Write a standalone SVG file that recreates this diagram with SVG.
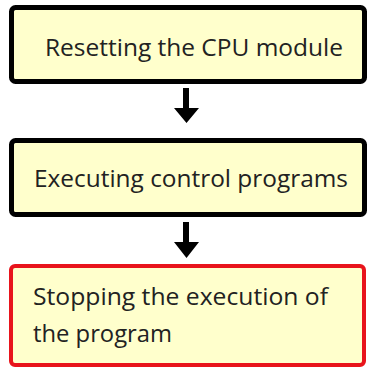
<svg xmlns="http://www.w3.org/2000/svg" width="371" height="370" viewBox="0 0 371 370">
<defs>
<style>
.box{fill:#FFFFCC;stroke:#000;stroke-width:5}
.red{fill:#FFFFCC;stroke:#E8141B;stroke-width:4}
.t{font-family:"Open Sans","Noto Sans","DejaVu Sans",sans-serif;font-size:23px;fill:#222}
.arr{fill:#000}
</style>
</defs>
<rect width="371" height="370" fill="#fff"/>
<g id="node-reset">
<rect class="box" x="11.5" y="7.5" width="353" height="74" rx="4"/>
<text class="t" x="45" y="56" textLength="298" lengthAdjust="spacingAndGlyphs">Resetting the CPU module</text>
</g>
<g id="node-execute">
<rect class="box" x="11.5" y="140.5" width="353" height="74" rx="4"/>
<text class="t" x="34" y="187" textLength="314" lengthAdjust="spacingAndGlyphs">Executing control programs</text>
</g>
<g id="node-stop">
<rect class="red" x="11" y="266" width="353" height="99" rx="4"/>
<text class="t" x="33" y="305" textLength="295" lengthAdjust="spacingAndGlyphs">Stopping the execution of</text>
<text class="t" x="33" y="342" textLength="139" lengthAdjust="spacingAndGlyphs">the program</text>
</g>
<g id="connectors">
<path class="arr" d="M183 88H189V108H199L186.5 123L174 108H183Z"/>
<path class="arr" d="M183 222H189V242H199L186.5 258L174 242H183Z"/>
</g>
</svg>
